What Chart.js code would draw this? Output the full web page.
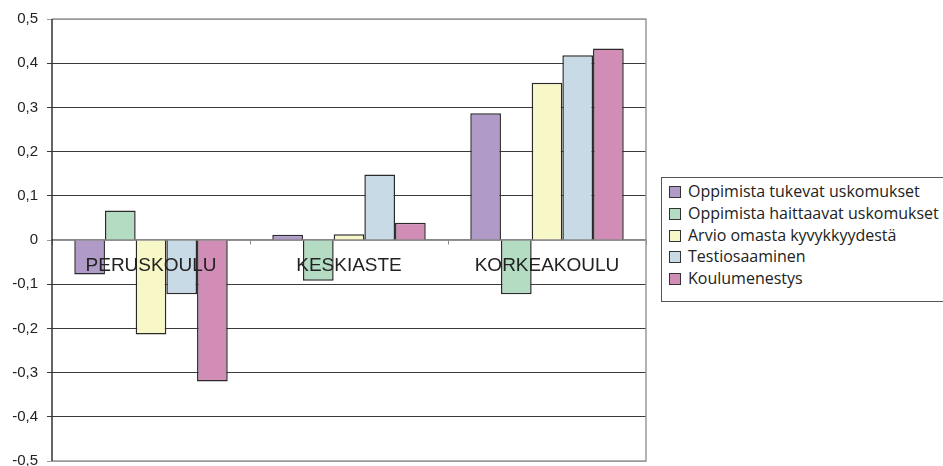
<!DOCTYPE html>
<html>
<head>
<meta charset="utf-8">
<script src="https://cdn.jsdelivr.net/npm/chart.js@4"></script>
<style>
    html, body { margin: 0; padding: 0; background: #fff; overflow: hidden; }
    #wrap { position: relative; width: 943px; height: 466px; overflow: hidden; }
    #legend {
        position: absolute; left: 661px; top: 177px; width: 300px;
        border: 1px solid #555; background: #fff;
        padding: 3px 0 11px 7px;
        font-family: "Open Sans", sans-serif; font-size: 16px; color: #222;
        white-space: nowrap;
    }
    #legend .item { height: 21.8px; line-height: 21.8px; }
    #legend .box {
        display: inline-block; width: 10px; height: 10px;
        border: 1px solid #333; margin-right: 7px; vertical-align: -1px;
    }
</style>
</head>
<body>
<div id="wrap">
    <canvas id="chart" width="943" height="466"></canvas>
    <div id="legend"></div>
</div>
<script>
// School levels and the five measures
const categories = ['PERUSKOULU', 'KESKIASTE', 'KORKEAKOULU'];
const seriesNames = [
    'Oppimista tukevat uskomukset',
    'Oppimista haittaavat uskomukset',
    'Arvio omasta kyvykkyydestä',
    'Testiosaaminen',
    'Koulumenestys'
];
const tukevat = [-0.078, 0.012, 0.287];
const haittaavat = [0.067, -0.092, -0.123];
const arvio = [-0.214, 0.013, 0.356];
const testi = [-0.123, 0.148, 0.418];
const menestys = [-0.32, 0.039, 0.433];
const colors = ['#B09AC8', '#B3DCC3', '#F8F7C7', '#C8DAE6', '#D18DB6'];

const seriesValues = [tukevat, haittaavat, arvio, testi, menestys];

// Legend box on the right
const legendEl = document.getElementById('legend');
seriesNames.forEach((name, i) => {
    const row = document.createElement('div');
    row.className = 'item';
    row.innerHTML = '<span class="box" style="background:' + colors[i] + '"></span>' + name;
    legendEl.appendChild(row);
});

// Gray frame around the plot area
const framePlugin = {
    id: 'frame',
    afterDraw(chart) {
        const a = chart.chartArea;
        const ctx = chart.ctx;
        ctx.save();
        ctx.strokeStyle = '#999';
        ctx.lineWidth = 1.5;
        ctx.beginPath();
        ctx.moveTo(a.left, a.top);
        ctx.lineTo(a.right, a.top);
        ctx.lineTo(a.right, a.bottom);
        ctx.lineTo(a.left, a.bottom);
        ctx.stroke();
        ctx.strokeStyle = '#333';
        ctx.lineWidth = 1.5;
        ctx.beginPath();
        ctx.moveTo(a.left, a.top);
        ctx.lineTo(a.left, a.bottom);
        ctx.stroke();
        ctx.restore();
    }
};

new Chart(document.getElementById('chart'), {
    type: 'bar',
    data: {
        labels: categories,
        datasets: seriesNames.map((name, i) => ({
            label: name,
            data: seriesValues[i],
            backgroundColor: colors[i],
            borderColor: '#2a2a2a',
            borderWidth: 1.5,
            barPercentage: 1,
            categoryPercentage: 0.775
        }))
    },
    options: {
        responsive: false,
        animation: false,
        layout: { padding: { left: 0, right: 297, top: 19, bottom: 5 } },
        scales: {
            x: {
                position: { y: 0 },
                grid: {
                    drawOnChartArea: false,
                    drawTicks: true,
                    tickLength: 4,
                    color: '#888'
                },
                border: { color: '#888', width: 1.5 },
                ticks: {
                    z: 1,
                    color: '#222',
                    padding: 10,
                    font: { family: 'Liberation Sans', size: 19 }
                }
            },
            y: {
                min: -0.5,
                max: 0.5,
                afterFit(scale) {
                    scale.width = 52;
                    scale.paddingTop = 0;
                    scale.paddingBottom = 0;
                },
                grid: {
                    color: ctx => (Math.abs(ctx.tick.value) > 0.45 || Math.abs(ctx.tick.value) < 0.01) ? '#999' : '#3a3a3a',
                    lineWidth: 1,
                    tickLength: 5
                },
                border: { display: false },
                ticks: {
                    stepSize: 0.1,
                    color: '#222',
                    padding: 9,
                    font: { family: 'Liberation Sans', size: 15 },
                    callback: v => Math.abs(v) < 1e-9 ? '0' : v.toFixed(1).replace('.', ',')
                }
            }
        },
        plugins: {
            legend: { display: false },
            tooltip: { enabled: false }
        }
    },
    plugins: [framePlugin]
});
</script>
</body>
</html>
